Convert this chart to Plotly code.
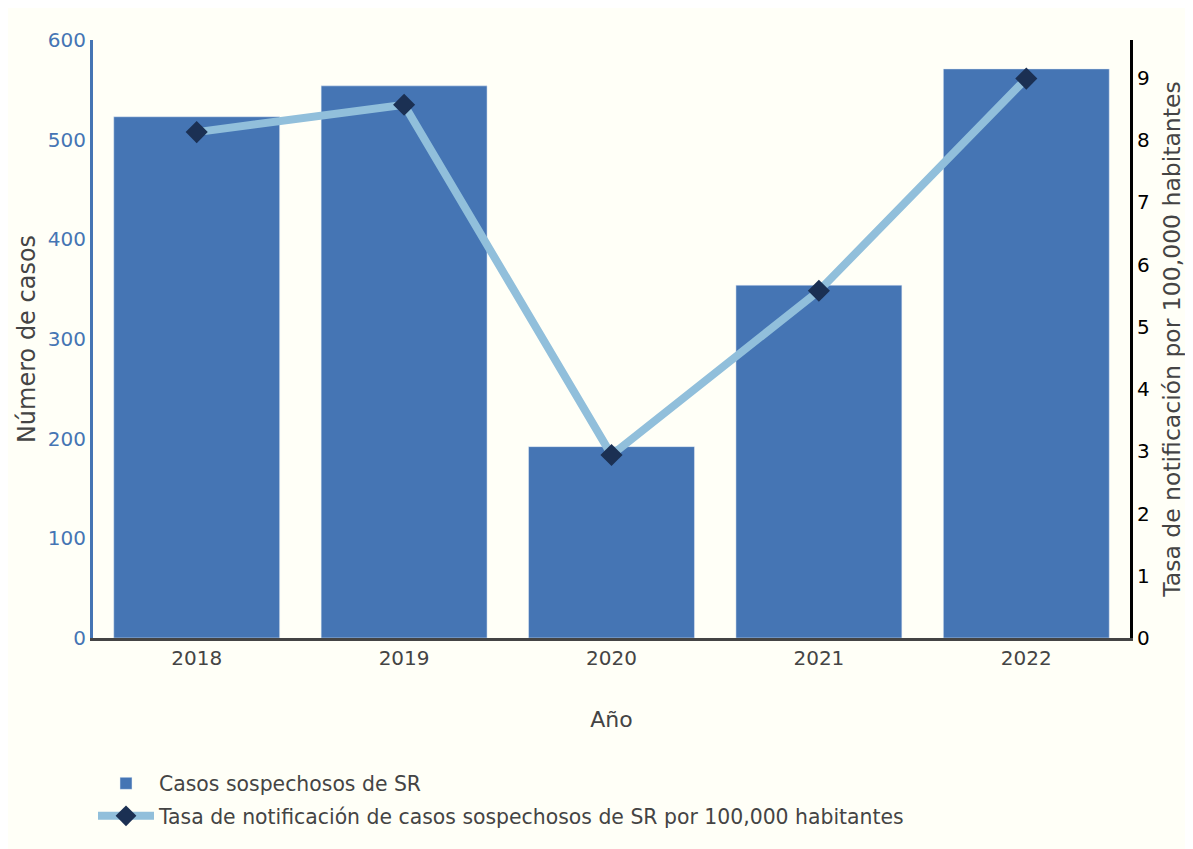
import plotly.graph_objects as go

years = ["2018", "2019", "2020", "2021", "2022"]
casos = [523, 554, 192, 354, 571]
tasa = [8.13, 8.57, 2.94, 5.58, 8.99]

bar_name = "Casos sospechosos de SR"
line_name = "Tasa de notificación de casos sospechosos de SR por 100,000 habitantes"

FONT = "Verdana, DejaVu Sans, sans-serif"

fig = go.Figure()
fig.add_trace(go.Bar(x=years, y=casos, name=bar_name, marker_color="#4575b4", yaxis="y",
                     legendgroup="a"))
fig.add_trace(go.Scatter(x=years, y=tasa, name=line_name, mode="lines+markers", yaxis="y2",
                         legendgroup="b",
                         line=dict(color="#91bfdb", width=8),
                         marker=dict(symbol="diamond", size=17, color="#1b3053")))

W, H = 1185, 841
fig.update_layout(
    width=W, height=H,
    margin=dict(l=85, r=55, t=32, b=211),
    paper_bgcolor="#fffff7", plot_bgcolor="#fffff7",
    font=dict(family=FONT, size=20, color="#444"),
    showlegend=True,
    legend=dict(x=0.0, y=-0.21, xanchor="left", yanchor="top", orientation="v",
                font=dict(size=20.4, color="#444"), bgcolor="rgba(0,0,0,0)",
                itemwidth=56, traceorder="grouped", tracegroupgap=3),
    xaxis=dict(title=dict(text="Año", font=dict(size=22), standoff=43),
               showline=True, linecolor="#444", linewidth=3, showgrid=False,
               tickfont=dict(size=20, color="#444"), ticks=""),
    yaxis=dict(title=dict(text="Número de casos", font=dict(size=24, color="#444"), standoff=6),
               range=[0, 600], dtick=100, showline=True, linecolor="#4575b4", linewidth=3,
               showgrid=False, zeroline=False, tickfont=dict(size=20, color="#4575b4"), ticks=""),
    yaxis2=dict(title=dict(text="Tasa de notificación por 100,000 habitantes",
                           font=dict(size=23.5, color="#444")),
                overlaying="y", side="right", range=[0, 9.61], dtick=1, showline=True,
                linecolor="black", linewidth=3, showgrid=False, zeroline=False,
                tickfont=dict(size=20, color="black"), ticks=""),
)

fig.write_html("out.html")
